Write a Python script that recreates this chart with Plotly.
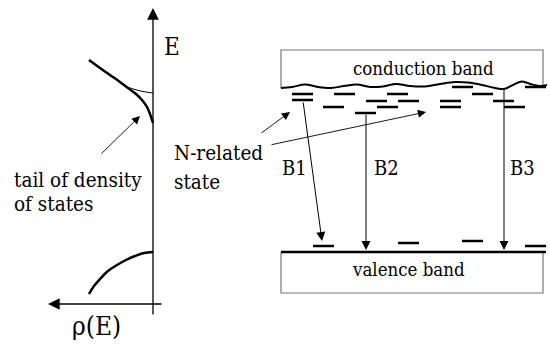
import plotly.graph_objects as go

# --- band-structure schematic data (pixel-space coordinates) ---

# density of states on the left panel
cb_dos_x = [89, 100, 110, 120, 128, 136, 142, 147, 150, 153]
cb_dos_y = [60, 68, 75, 82, 88, 94, 100, 107, 114, 123]
cb_edge_x = [127, 135, 143, 153]
cb_edge_y = [87, 89.5, 91.5, 93]
vb_dos_x = [89, 94, 100, 108, 117, 126, 135, 144, 153]
vb_dos_y = [294, 286, 279, 271, 265, 260, 256, 253, 252]

# conduction-band edge (wavy) and boxes
wave_x = [281, 292, 305, 318, 331, 344, 357, 370, 383, 396, 410, 425, 440, 455, 468, 482, 495, 504, 513, 522, 532, 541, 547]
wave_y = [88, 87, 84.5, 87, 88, 86, 84.5, 87, 86.5, 84, 86, 86.5, 84, 82, 82.5, 85, 88, 89, 85, 81.5, 84.5, 86, 85]
band_left, band_right = 281, 543
cb_top = 50
vb_top, vb_bottom = 252, 293

# localized N-related levels (left end x, y) and valence-side levels
level_width = 21
n_level_x = [292, 292, 334, 323, 387, 366, 398, 377, 452, 472, 440, 440, 493, 504, 525, 355]
n_level_y = [94, 100, 94, 107, 94, 101, 101, 107, 87, 94, 101, 107, 101, 107, 87, 113]
vb_level_x = [313, 398, 462, 525]
vb_level_y = [246, 243, 241, 246]

# optical transitions: start (x, y) -> end (x, y)
trans_names = ["B1", "B2", "B3"]
trans_x0 = [303, 366, 504]
trans_y0 = [101, 113, 88]
trans_x1 = [322, 366, 504]
trans_y1 = [241, 250, 250]
trans_label_x = [280, 372, 508]
trans_label_y = [168, 168, 168]

FONT = "DejaVu Serif Condensed, DejaVu Serif"
fig = go.Figure()


def line(xs, ys, width, color="black", shape="linear"):
    fig.add_trace(go.Scatter(x=xs, y=ys, mode="lines", hoverinfo="skip",
                             line=dict(color=color, width=width, shape=shape)))


# DOS curves
line(cb_dos_x, cb_dos_y, 2.5, shape="spline")
line(cb_edge_x, cb_edge_y, 1, shape="spline")
line(vb_dos_x, vb_dos_y, 2.5, shape="spline")

# conduction band box
line([band_left, band_left, band_right, band_right], [wave_y[0], cb_top, cb_top, 85], 1.2, color="#777")
line(wave_x, wave_y, 2, shape="spline")

# valence band box
line([band_left, band_left, band_right, band_right], [vb_top, vb_bottom, vb_bottom, vb_top], 1.2, color="#777")
line([band_left, 546], [vb_top, vb_top], 2.5)

# levels
for lx, ly in zip(n_level_x + vb_level_x, n_level_y + vb_level_y):
    line([lx, lx + level_width], [ly, ly], 2.5)

annotations = []


def arrow(x0, y0, x1, y1, width=1, size=1.6, head=2):
    annotations.append(dict(x=x1, y=y1, ax=x0, ay=y0, xref="x", yref="y", axref="x", ayref="y",
                            showarrow=True, arrowhead=head, arrowsize=size, arrowwidth=width,
                            arrowcolor="black", standoff=0, text=""))


# axes of the DOS panel
arrow(153, 316, 153, 8, width=1.3, size=1.8)
arrow(163, 304, 48, 304, width=1.3, size=1.8)

# pointer arrows
arrow(100, 155, 140, 116, width=0.9, size=1.8)
arrow(260, 134, 290, 112, width=0.9, size=1.8)
arrow(270, 145, 426, 112, width=0.9, size=1.8)

# transitions
for x0, y0, x1, y1 in zip(trans_x0, trans_y0, trans_x1, trans_y1):
    arrow(x0, y0, x1, y1, width=1, size=1.8)


def text(s, x, y, size, anchor="left"):
    annotations.append(dict(x=x, y=y, xref="x", yref="y", text=s, showarrow=False,
                            xanchor=anchor, yanchor="middle",
                            font=dict(family=FONT, size=size, color="black")))


text("E", 162, 47, 24)
text("tail of density", 12, 180, 20.5)
text("of states", 12, 204, 20.5)
text("ρ(E)", 96, 326, 26, anchor="center")
text("N-related", 172, 153, 20.5)
text("state", 172, 182, 20.5)
for name, lx, ly in zip(trans_names, trans_label_x, trans_label_y):
    text(name, lx, ly, 20)
text("conduction band", 423, 68, 18.5, anchor="center")
text("valence band", 408, 269, 18.5, anchor="center")

fig.update_layout(
    width=550, height=345, margin=dict(l=0, r=0, t=0, b=0),
    paper_bgcolor="white", plot_bgcolor="white", showlegend=False,
    xaxis=dict(range=[0, 550], visible=False, fixedrange=True),
    yaxis=dict(range=[345, 0], visible=False, fixedrange=True),
    annotations=annotations,
)
fig.write_html("out.html")
